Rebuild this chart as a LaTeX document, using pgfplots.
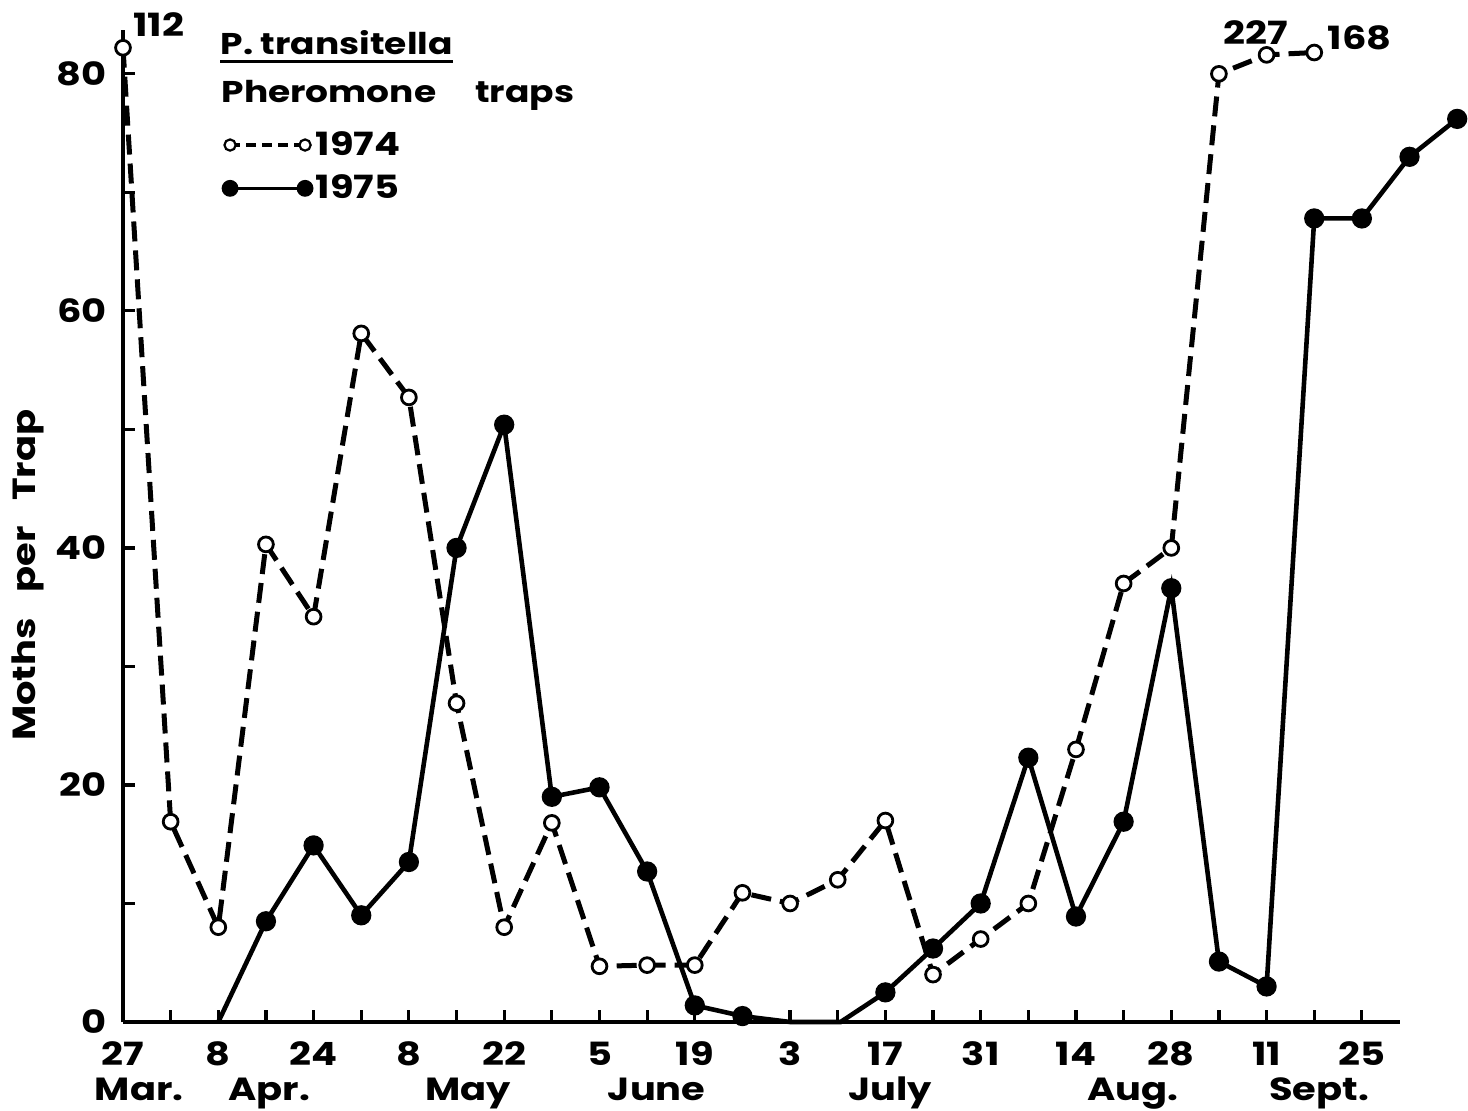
\documentclass[border=0pt]{standalone}
\usepackage{fontspec}
\setmainfont{Poppins}[FakeStretch=1.2]
\usepackage{pgfplots}
\pgfplotsset{compat=1.18}
\tikzset{monthlabel/.style={anchor=base, inner sep=0pt, yshift=-39pt, font=\bfseries\fontsize{16}{18}\selectfont}}
\begin{document}
\begin{tikzpicture}
\begin{axis}[
  scale only axis, width=638.5pt, height=496pt,
  xmin=0, xmax=26.8, ymin=0, ymax=83.7,
  axis lines=left, axis line style={-, line width=1.8pt},
  clip=false,
  tick align=inside,
  major tick length=6pt, minor tick length=6pt,
  every tick/.style={line width=1.6pt, black},
  xtick={0,...,26},
  xticklabels={27,,8,,24,,8,,22,,5,,19,,3,,17,,31,,14,,28,,11,,25},
  xticklabel style={anchor=base, yshift=-21.5pt, inner sep=0pt, font=\bfseries\fontsize{16}{18}\selectfont},
  ytick={0,20,40,60,80},
  minor ytick={10,30,50,70},
  yticklabel style={anchor=east, inner sep=0pt, xshift=-8pt, font=\bfseries\fontsize{16}{18}\selectfont},
  /pgf/number format/assume math mode=true,
  legend style={draw=none, fill=none, at={(axis cs:2.1,75.5)}, anchor=north west, inner sep=0pt,
    row sep=4.2pt, font=\bfseries\fontsize{16}{18}\selectfont},
  legend cell align=left,
  legend image code/.code={
    \path (0pt,0pt) -- (40pt,0pt);
    \draw[#1,mark=none] (0pt,0pt) -- (37.5pt,0pt);
    \draw[#1,only marks] plot coordinates {(0pt,0pt) (37.5pt,0pt)};
  },
]
% 1974
\addplot[forget plot, black, line width=2.5pt, dash pattern=on 10pt off 4.5pt,
  mark=*, mark size=3.7pt, mark options={solid, fill=white, draw=black, line width=1.4pt}]
coordinates {
(0,82.2) (1,16.9) (2,8.0) (3,40.3) (4,34.2) (5,58.1) (6,52.7) (7,26.9) (8,8.0)
(9,16.8) (10,4.7) (11,4.8) (12,4.8) (13,10.9) (14,10.0) (15,12.0) (16,17.0)
(17,4.0) (18,7.0) (19,10.0) (20,23.0) (21,37.0) (22,40.0) (23,80.0) (24,81.6) (25,81.8)
};
% 1975
\addplot[forget plot, black, line width=2.3pt, mark=*, mark size=3.9pt,
  mark options={solid, fill=black},
  mark indices={2,3,4,5,6,7,8,9,10,11,12,15,16,17,18,19,20,21,22,23,24,25,26,27}]
coordinates {
(2,0) (3,8.5) (4,14.9) (5,9.0) (6,13.5) (7,40.0) (8,50.4) (9,19.0) (10,19.8)
(11,12.7) (12,1.4) (13,0.5) (14,0) (15.06,0) (16,2.5) (17,6.2) (18,10.0)
(19,22.3) (20,8.9) (21,16.9) (22,36.6) (23,5.1) (24,3.0) (25,67.8) (26,67.8)
(27,73.0) (28,76.2)
};
\addlegendimage{black, line width=1.8pt, dash pattern=on 5pt off 3pt, mark=*, mark size=2.8pt,
  mark options={solid, fill=white, draw=black, line width=1.1pt}}
\addlegendentry{1974}
\addlegendimage{black, line width=1.8pt, mark=*, mark size=3.3pt, mark options={solid, fill=black}}
\addlegendentry{1975}

\node[anchor=base west, inner sep=0pt, font=\bfseries\fontsize{15}{18}\selectfont] (t) at (axis cs:2.04,81.6) {P. transitella};
\draw[line width=1.4pt] ([yshift=-3.5pt]t.base west) -- ([yshift=-3.5pt]t.base east);
\node[anchor=base west, inner sep=0pt, font=\bfseries\fontsize{15}{18}\selectfont] at (axis cs:2.06,77.6) {Pheromone\hspace{1.3em}traps};

\node[font=\bfseries\fontsize{16}{18}\selectfont] at (axis cs:0.75,84.2) {112};
\node[font=\bfseries\fontsize{16}{18}\selectfont] at (axis cs:23.78,83.5) {227};
\node[font=\bfseries\fontsize{16}{18}\selectfont] at (axis cs:25.95,83.0) {168};

\node[rotate=90, font=\bfseries\fontsize{16}{18}\selectfont] at (axis cs:-2.0,37.7) {Moths\hspace{0.8em}per\hspace{0.8em}Trap};

\node[monthlabel] at (axis cs:0.34,0) {Mar.};
\node[monthlabel] at (axis cs:3.07,0) {Apr.};
\node[monthlabel] at (axis cs:7.25,0) {May};
\node[monthlabel] at (axis cs:11.2,0) {June};
\node[monthlabel] at (axis cs:16.1,0) {July};
\node[monthlabel] at (axis cs:21.2,0) {Aug.};
\node[monthlabel] at (axis cs:25.1,0) {Sept.};
\end{axis}
\pgfresetboundingbox
\path[use as bounding box] (-61.5pt,-44pt) rectangle (672.5pt,511pt);
\end{tikzpicture}
\end{document}
